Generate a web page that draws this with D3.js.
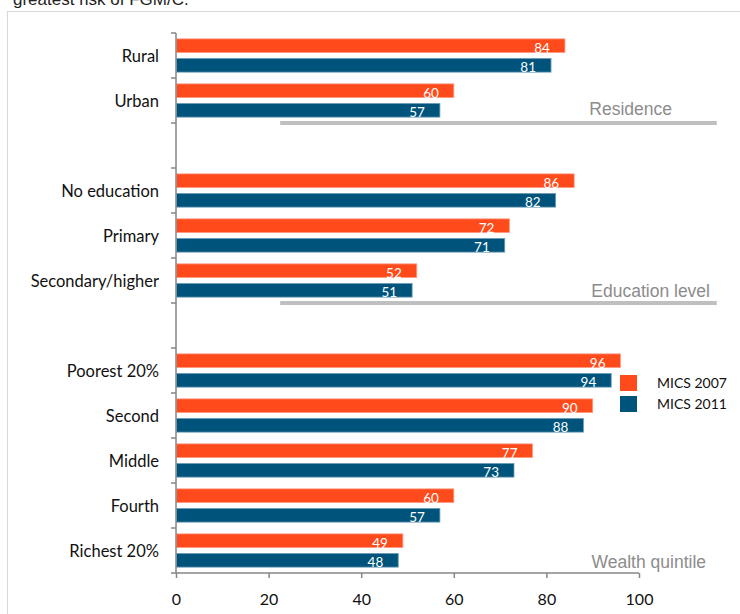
<!DOCTYPE html>
<html>
<head>
<meta charset="utf-8">
<script src="https://cdn.jsdelivr.net/npm/d3@7"></script>
<style>
  html, body { margin: 0; padding: 0; background: #fff; }
  svg { display: block; }
</style>
</head>
<body>
<svg id="chart" width="740" height="614"></svg>
<script>
// ---- data ----
const categories = ["Rural", "Urban", "", "No education", "Primary", "Secondary/higher", " ", "Poorest 20%", "Second", "Middle", "Fourth", "Richest 20%"];
const mics2007 = [84, 60, null, 86, 72, 52, null, 96, 90, 77, 60, 49];
const mics2011 = [81, 57, null, 82, 71, 51, null, 94, 88, 73, 57, 48];
const seriesNames = ["MICS 2007", "MICS 2011"];
const xTicks = [0, 20, 40, 60, 80, 100];
const groupLabels = ["Residence", "Education level", "Wealth quintile"];
const groupLastCategory = ["Urban", "Secondary/higher", "Richest 20%"];

// ---- layout ----
const colors = { "MICS 2007": "#FF4A1C", "MICS 2011": "#00547B" };
const strokes = { "MICS 2007": "#FF9A80", "MICS 2011": "#6E9DBA" };
const labelFont = "Lato, 'Open Sans', sans-serif";
const svg = d3.select("#chart");

const pLeft = 176, pRight = 639, pTop = 33, pBottom = 573;

const x = d3.scaleLinear().domain([0, 100]).range([pLeft, pRight]);
const y = d3.scaleBand().domain(categories).range([pTop, pBottom]).paddingInner(0).paddingOuter(0);
const ySub = d3.scaleBand().domain(seriesNames).range([0, y.bandwidth()]).paddingInner(0.3).paddingOuter(0.3);

// frame
svg.append("rect").attr("x", 7.5).attr("y", 11.5).attr("width", 760).attr("height", 640)
  .attr("fill", "none").attr("stroke", "#D9D9D9").attr("stroke-width", 1);

// cut-off title text at top
svg.append("text").attr("x", 13).attr("y", 5)
  .attr("font-family", "'Liberation Sans', Arial, sans-serif").attr("font-size", 17)
  .attr("fill", "#222").text("greatest risk of FGM/C.");

// group separator lines
groupLastCategory.forEach((c, i) => {
  const yb = y(c) + y.bandwidth();
  if (i < 2) {
    svg.append("line").attr("x1", x(22.5)).attr("x2", x(116.8))
      .attr("y1", yb).attr("y2", yb)
      .attr("stroke", "#BFBFBF").attr("stroke-width", 4);
  }
});
// group labels
const groupLabelPos = [{ xr: 672, yb: 115 }, { xr: 710, yb: 297 }, { xr: 706, yb: 568 }];
groupLabels.forEach((g, i) => {
  svg.append("text").attr("x", groupLabelPos[i].xr).attr("y", groupLabelPos[i].yb)
    .attr("text-anchor", "end")
    .attr("font-family", "'Liberation Sans', Arial, sans-serif").attr("font-size", 17.5)
    .attr("fill", "#8C8C8C").text(g);
});

// bars
const rows = categories.map((c, i) => ({ c, v: [mics2007[i], mics2011[i]] }));
const barData = [];
rows.forEach(r => {
  seriesNames.forEach((s, j) => {
    if (r.v[j] != null) barData.push({ c: r.c, s, v: r.v[j] });
  });
});

svg.append("g").selectAll("rect").data(barData).join("rect")
  .attr("x", x(0) + 0.5)
  .attr("y", d => y(d.c) + ySub(d.s))
  .attr("width", d => x(d.v) - x(0) - 0.5)
  .attr("height", ySub.bandwidth())
  .attr("fill", d => colors[d.s])
  .attr("stroke", d => strokes[d.s])
  .attr("stroke-width", 0.8);

svg.append("g").selectAll("text").data(barData).join("text")
  .attr("x", d => x(d.v) - 15)
  .attr("y", d => y(d.c) + ySub(d.s) + ySub.bandwidth())
  .attr("text-anchor", "end")
  .attr("font-family", labelFont).attr("font-size", 13.5)
  .attr("fill", "#fff")
  .text(d => d.v);

// x axis
const xAxis = d3.axisBottom(x).tickValues(xTicks).tickSize(5).tickPadding(16).tickFormat(d3.format("d"));
const gx = svg.append("g").attr("transform", `translate(0,${pBottom})`).call(xAxis);
gx.select(".domain").attr("stroke", "#868686").attr("stroke-width", 1.5).attr("d", `M${pLeft},0H${pRight}`);
gx.selectAll(".tick line").attr("stroke", "#868686").attr("stroke-width", 1.5);
gx.selectAll(".tick text").attr("font-family", labelFont).attr("font-size", 16).attr("fill", "#111");

// y axis: labels at band centers, ticks at band boundaries
const yAxis = d3.axisLeft(y).tickSize(0).tickPadding(17);
const gy = svg.append("g").attr("transform", `translate(${pLeft},0)`).call(yAxis);
gy.select(".domain").attr("stroke", "#868686").attr("stroke-width", 1.5).attr("d", `M0,${pTop}V${pBottom}`);
gy.selectAll(".tick text").attr("font-family", labelFont).attr("font-size", 16.5).attr("fill", "#111")
  .attr("dy", "0.4em");

const boundaries = categories.map(c => y(c)).concat([y(categories[categories.length - 1]) + y.bandwidth()]);
gy.append("g").selectAll("line").data(boundaries).join("line")
  .attr("x1", -5).attr("x2", 0).attr("y1", d => d).attr("y2", d => d)
  .attr("stroke", "#868686").attr("stroke-width", 1.5);

// legend
const lg = svg.append("g");
seriesNames.forEach((s, i) => {
  lg.append("rect").attr("x", 620).attr("y", 375 + i * 21).attr("width", 17).attr("height", 16).attr("fill", colors[s]);
  lg.append("text").attr("x", 657).attr("y", 388 + i * 21)
    .attr("font-family", labelFont).attr("font-size", 14).attr("fill", "#111").text(s);
});
</script>
</body>
</html>
